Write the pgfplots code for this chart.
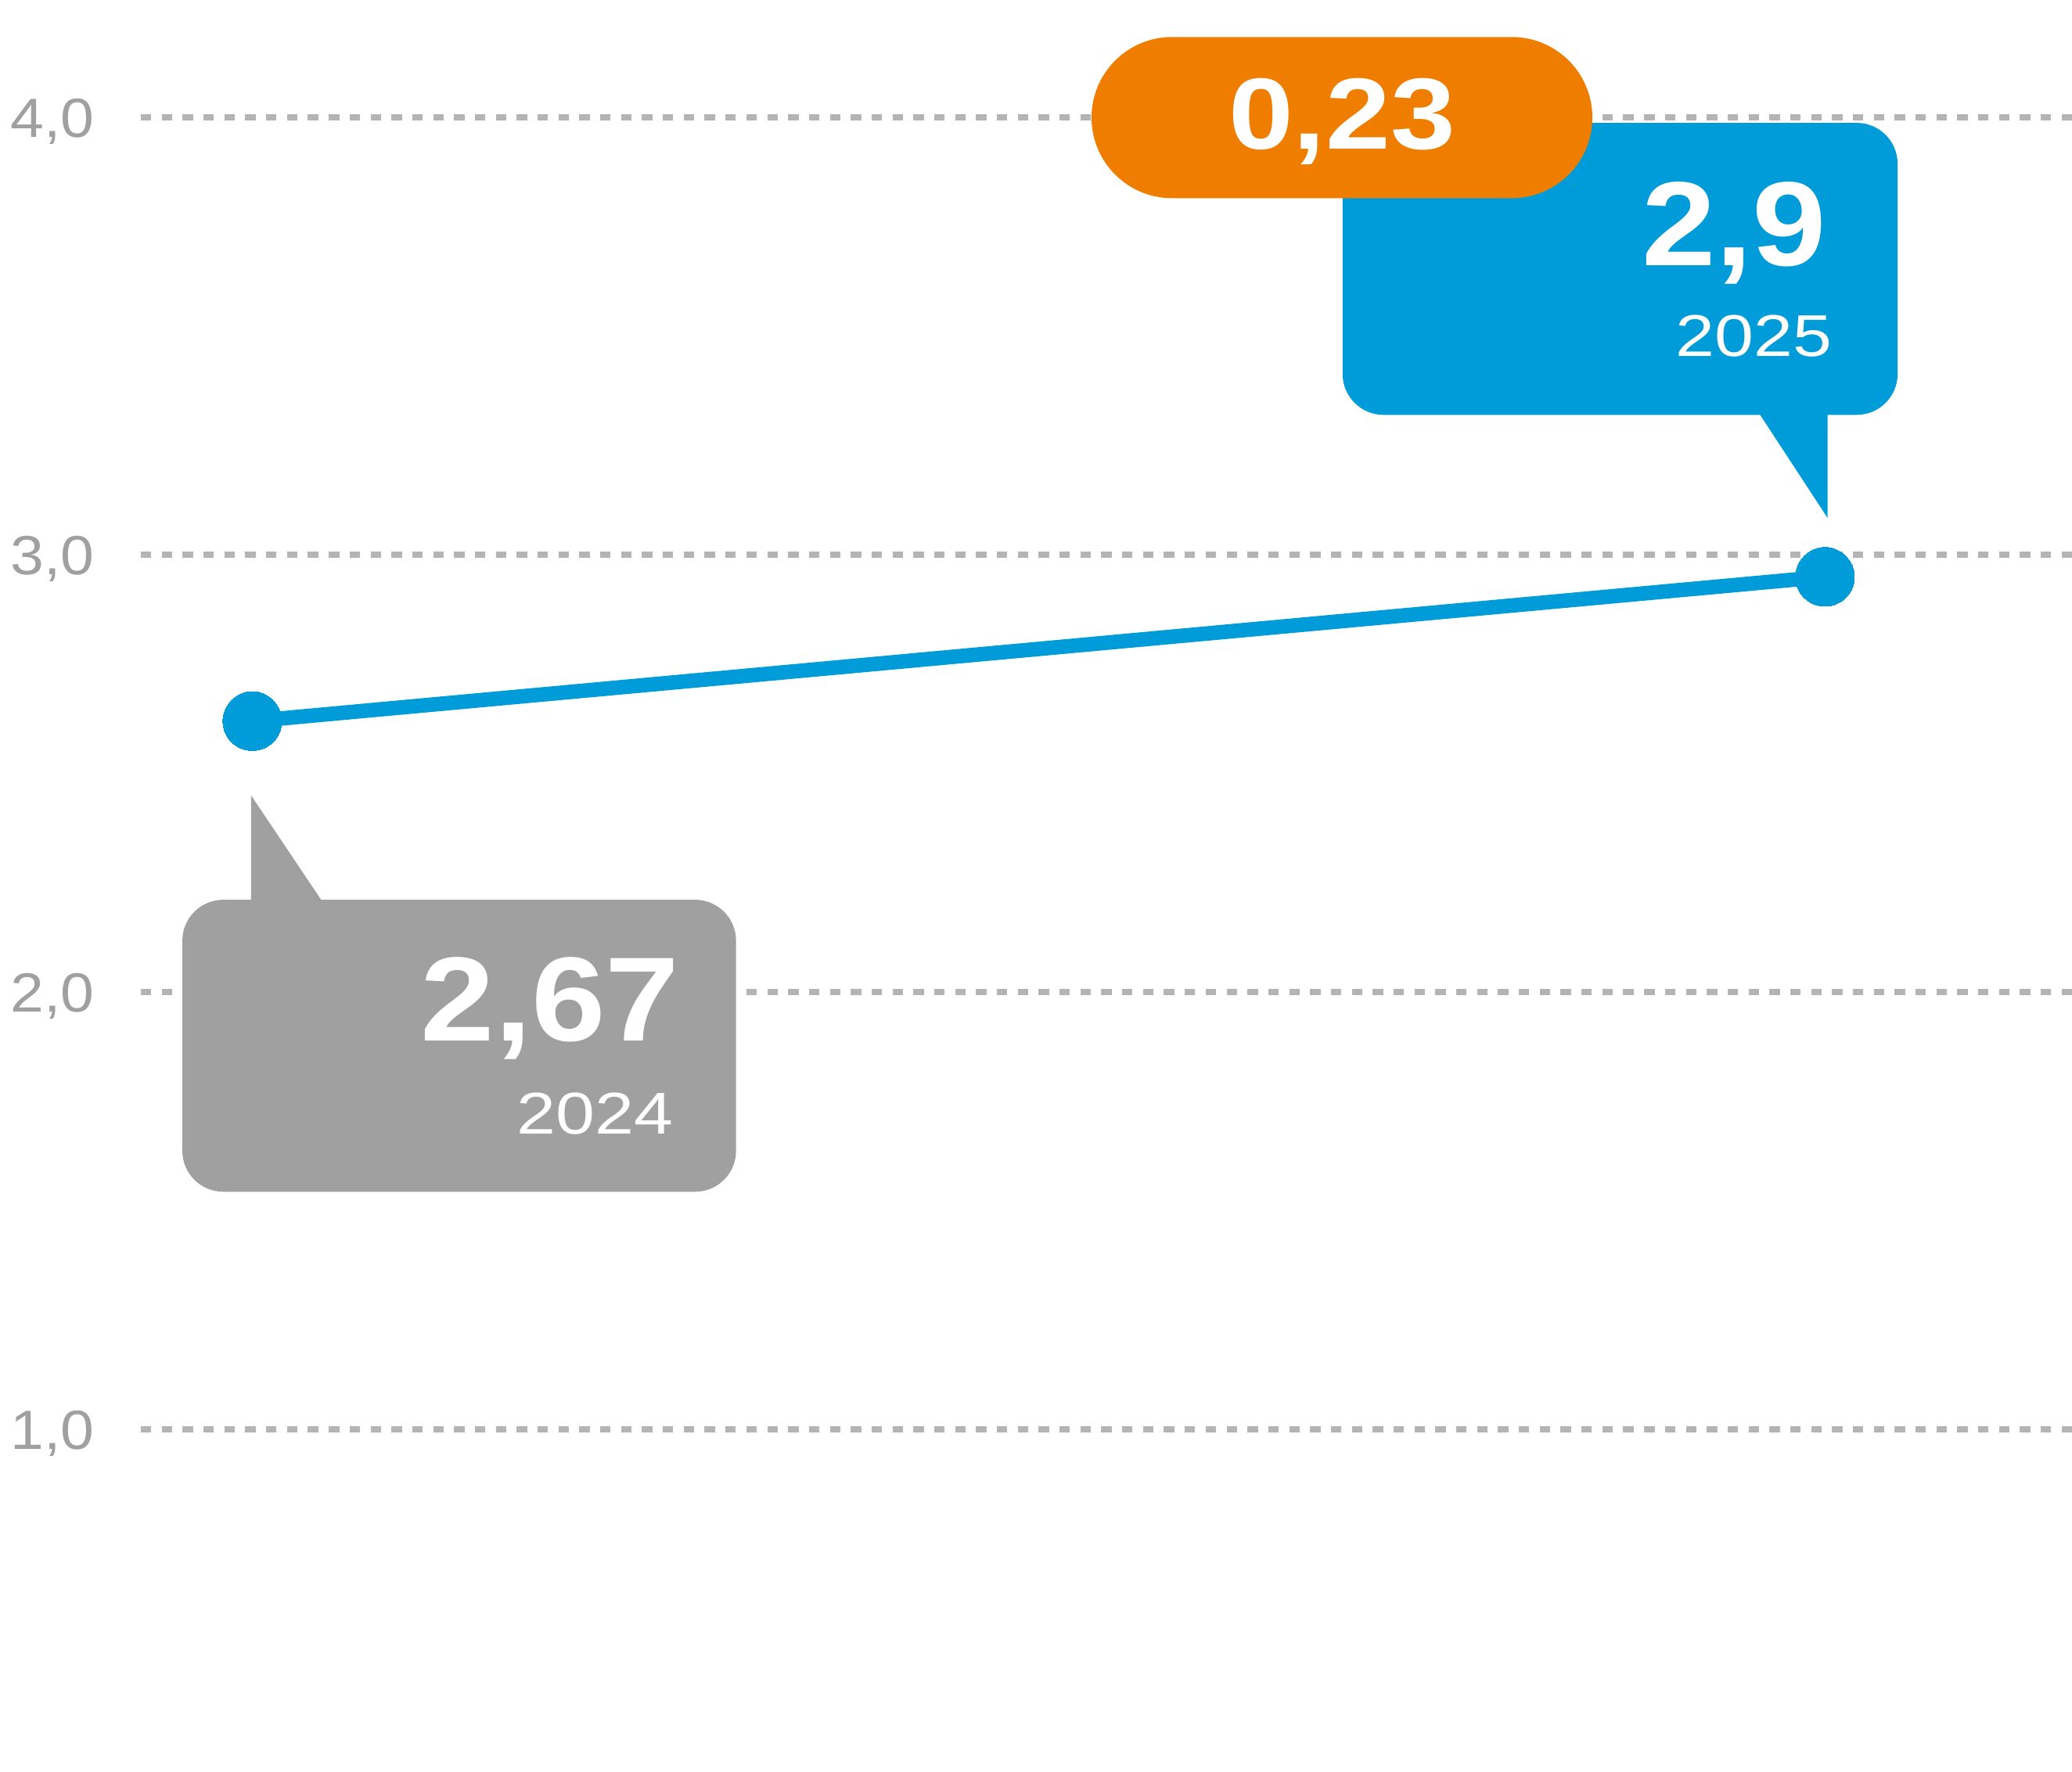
\documentclass[border=0pt]{standalone}
\usepackage{fontspec}
\setmainfont{Liberation Sans}
\newfontfamily\bignum{Liberation Sans}[FakeStretch=1.11]
\newfontfamily\pillfont{Liberation Sans}[FakeStretch=1.15]
\newfontfamily\yearfont{Liberation Sans}[FakeStretch=1.19]
\newfontfamily\tickfont{Liberation Sans}[FakeStretch=1.09]
\usepackage{pgfplots}
\pgfplotsset{compat=1.18}
\definecolor{lineblue}{HTML}{009CDA}
\definecolor{pillorange}{HTML}{EF7D00}
\definecolor{boxgray}{HTML}{A0A0A0}
\definecolor{gridgray}{HTML}{B4B4B4}
\definecolor{tickgray}{HTML}{A0A0A0}
\begin{document}
\begin{tikzpicture}
\begin{axis}[
  at={(1.066cm,0cm)}, anchor=south west,
  scale only axis, width=14.614cm, height=13.41cm,
  xmin=-0.0709, xmax=1.1571,
  ymin=0.2175, ymax=4.2689,
  axis line style={draw=none},
  tick style={draw=none},
  xtick=\empty,
  ytick={1,2,3,4},
  ymajorgrids,
  grid style={gridgray, line width=0.48mm, dash pattern=on 0.79mm off 0.79mm},
  /pgf/number format/.cd, use comma, fixed, fixed zerofill, precision=1, assume math mode=true,
  /pgfplots/.cd,
  yticklabel style={anchor=base east, inner sep=0pt, xshift=-3.46mm, yshift=-1.5mm,
    text=tickgray, font=\tickfont\fontsize{11.9}{14}\selectfont},
  clip=false,
]
\addplot[color=lineblue, line width=1.1mm, mark=*, mark size=2.23mm,
  mark options={solid, fill=lineblue, draw=lineblue, line width=0pt}] coordinates {(0,2.62) (1,2.95)};
\end{axis}
\begin{scope}[x=0.1mm, y=-0.1mm, shift={(0cm,13.41cm)}]
  % gray callout (2024)
  \fill[boxgray, rounded corners=3.1mm] (138,681) rectangle (557,902);
  \fill[boxgray] (190,684) -- (190,602) -- (243,681) -- (243,684) -- cycle;
  \node[anchor=base east, inner sep=0pt, text=white] at (515,788)
    {\bignum\bfseries\fontsize{25.8}{30}\selectfont 2,67};
  \node[anchor=base east, inner sep=0pt, text=white] at (510,858)
    {\yearfont\fontsize{12.7}{15}\selectfont 2024};
  % blue callout (2025)
  \fill[lineblue, rounded corners=3.1mm] (1016,93) rectangle (1436,314);
  \fill[lineblue] (1330,311) -- (1383,392) -- (1383,311) -- cycle;
  \node[anchor=base east, inner sep=0pt, text=white] at (1383,201)
    {\bignum\bfseries\fontsize{25.8}{30}\selectfont 2,9};
  \node[anchor=base east, inner sep=0pt, text=white] at (1387,270)
    {\yearfont\fontsize{12.7}{15}\selectfont 2025};
  % orange pill
  \fill[pillorange, rounded corners=6.1mm] (826,28) rectangle (1205,150);
  \node[anchor=base, inner sep=0pt, text=white] at (1015.5,113)
    {\pillfont\bfseries\fontsize{21.8}{26}\selectfont 0,23};
\end{scope}
\pgfresetboundingbox
\path (0,0) rectangle (15.68cm,13.41cm);
\end{tikzpicture}
\end{document}
